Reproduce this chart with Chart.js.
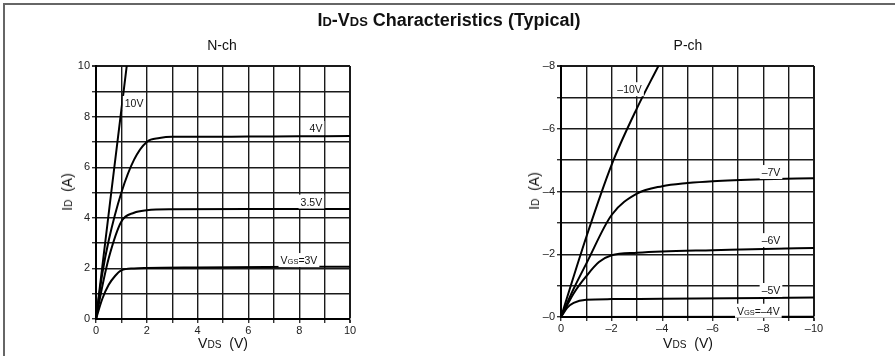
<!DOCTYPE html>
<html>
<head>
<meta charset="utf-8">
<script src="https://cdn.jsdelivr.net/npm/chart.js@4"></script>
<style>
  body { margin: 0; background: #fff; }
  #wrap { position: relative; width: 895px; height: 356px; overflow: hidden; font-family: "Liberation Sans", Arial, sans-serif; color: #111; }
  #frame { position: absolute; left: 3px; top: 3px; width: 1000px; height: 1000px; border-left: 2px solid #666; border-top: 2px solid #666; }
  canvas { position: absolute; top: 0; }
  .txt { position: absolute; white-space: nowrap; transform: translate(-50%, -50%); }
  .sm { font-size: 0.72em; }
  .title { font-weight: bold; font-size: 18px; }
  .sub { font-size: 14px; }
  .ax { font-size: 14px; }
  .rot { transform: translate(-50%, -50%) rotate(-90deg); }
</style>
</head>
<body>
<div id="wrap">
  <div id="frame"></div>
  <canvas id="nch" width="448" height="356" style="left:0"></canvas>
  <canvas id="pch" width="447" height="356" style="left:448px"></canvas>
  <div class="txt title" style="left:449px; top:20px">I<span class="sm">D</span>-V<span class="sm">DS</span> Characteristics (Typical)</div>
  <div class="txt sub" style="left:222px; top:45px">N-ch</div>
  <div class="txt sub" style="left:688px; top:45px">P-ch</div>
  <div class="txt ax rot" style="left:67px; top:192px">I<span class="sm">D</span>&nbsp;&nbsp;(A)</div>
  <div class="txt ax rot" style="left:534px; top:191px">I<span class="sm">D</span>&nbsp;&nbsp;(A)</div>
  <div class="txt ax" style="left:223px; top:343px">V<span class="sm">DS</span>&nbsp;&nbsp;(V)</div>
  <div class="txt ax" style="left:688px; top:343px">V<span class="sm">DS</span>&nbsp;&nbsp;(V)</div>
</div>
<script>
// N-ch curves (VDS in V, ID in A)
var n10Vds = [0, 0.6, 1.21];
var n10Id = [0, 5, 10];
var n4Vds = [0, 0.25, 0.5, 1, 1.5, 2, 2.5, 3, 4, 6, 8, 10];
var n4Id = [0, 1.8, 3.1, 5.0, 6.3, 7.0, 7.15, 7.2, 7.2, 7.21, 7.22, 7.23];
var n35Vds = [0, 0.25, 0.5, 1, 1.5, 2, 3, 6, 10];
var n35Id = [0, 1.3, 2.4, 3.85, 4.2, 4.3, 4.34, 4.35, 4.35];
var n3Vds = [0, 0.25, 0.5, 0.75, 1, 1.5, 2, 4, 10];
var n3Id = [0, 0.8, 1.35, 1.7, 1.92, 2.0, 2.02, 2.04, 2.07];

// P-ch curves
var p10Vds = [0, -1, -2, -3, -3.85];
var p10Id = [0, -2.55, -4.85, -6.65, -8];
var p7Vds = [0, -0.5, -1, -2, -3, -4, -5, -6, -8, -10];
var p7Id = [0, -0.9, -1.7, -3.25, -3.93, -4.17, -4.27, -4.33, -4.39, -4.42];
var p6Vds = [0, -0.5, -1, -1.5, -2, -3, -4, -6, -8, -10];
var p6Id = [0, -0.75, -1.3, -1.75, -1.97, -2.05, -2.09, -2.13, -2.17, -2.2];
var p5Vds = [0, -0.25, -0.5, -1, -2, -4, -10];
var p5Id = [0, -0.3, -0.45, -0.55, -0.57, -0.58, -0.62];
var p4Vds = [0, -10];
var p4Id = [0, -0.01];

// curve labels, {..} marks small text
var nLabels = ['10V', '4V', '3.5V', 'V{GS}=3V'];
var nLabelX = [1.5, 8.66, 8.48, 7.99];
var nLabelY = [8.54, 7.55, 4.64, 2.33];
var pLabels = ['\u201310V', '\u20137V', '\u20136V', '\u20135V', 'V{GS}=\u20134V'];
var pLabelX = [-2.71, -8.3, -8.3, -8.3, -7.8];
var pLabelY = [-7.26, -4.62, -2.45, -0.86, -0.2];

Chart.defaults.font.family = '"Liberation Sans", Arial, sans-serif';
Chart.defaults.font.size = 11;
Chart.defaults.color = '#222';

function pts(xs, ys) {
  return xs.map(function(x, i){ return {x: x, y: ys[i]}; });
}

function curve(xs, ys) {
  return {
    data: pts(xs, ys),
    borderColor: '#000',
    borderWidth: 2,
    pointRadius: 0,
    fill: false,
    cubicInterpolationMode: 'monotone'
  };
}

function drawRich(ctx, str, cx, cy) {
  var parts = [];
  str.split(/(\{[^}]*\})/).forEach(function(p){
    if (!p) return;
    if (p[0] === '{') parts.push({t: p.slice(1, -1), s: 7.5});
    else parts.push({t: p, s: 10.5});
  });
  var w = 0;
  parts.forEach(function(p){
    ctx.font = p.s + 'px "Liberation Sans", Arial, sans-serif';
    p.w = ctx.measureText(p.t).width;
    w += p.w;
  });
  ctx.fillStyle = '#fff';
  ctx.fillRect(cx - w / 2 - 2, cy - 7, w + 4, 14);
  ctx.fillStyle = '#111';
  ctx.textBaseline = 'alphabetic';
  ctx.textAlign = 'left';
  var x = cx - w / 2;
  parts.forEach(function(p){
    ctx.font = p.s + 'px "Liberation Sans", Arial, sans-serif';
    ctx.fillText(p.t, x, cy + 4);
    x += p.w;
  });
}

function labelPlugin(texts, xs, ys) {
  return {
    id: 'curveLabels',
    afterDatasetsDraw: function(chart){
      var ctx = chart.ctx;
      ctx.save();
      texts.forEach(function(t, i){
        drawRich(ctx, t, chart.scales.x.getPixelForValue(xs[i]), chart.scales.y.getPixelForValue(ys[i]));
      });
      ctx.restore();
    }
  };
}

function gridOpts(edgeValue) {
  return {
    color: '#1a1a1a',
    lineWidth: function(c){ return c.tick && c.tick.value === edgeValue ? 2 : 1.4; },
    tickLength: 4,
    tickColor: '#333'
  };
}

function buildChart(id, datasets, xr, yr, pad, labels, fmtX, fmtY) {
  return new Chart(document.getElementById(id), {
    type: 'line',
    data: { datasets: datasets },
    options: {
      responsive: false,
      animation: false,
      events: [],
      layout: { padding: pad },
      plugins: { legend: { display: false }, tooltip: { enabled: false } },
      scales: {
        x: {
          type: 'linear', min: xr[0], max: xr[1], reverse: xr[2],
          border: { display: true, color: '#000', width: 2 },
          grid: gridOpts(xr[3]),
          ticks: { stepSize: 1, autoSkip: false, maxRotation: 0, padding: 1, callback: fmtX },
          afterFit: function(s){ s.height = 20; }
        },
        y: {
          type: 'linear', min: yr[0], max: yr[1], reverse: yr[2],
          border: { display: true, color: '#000', width: 2 },
          grid: gridOpts(yr[3]),
          ticks: { stepSize: 1, autoSkip: false, padding: 2, callback: fmtY },
          afterFit: function(s){ s.width = 20; }
        }
      }
    },
    plugins: [labelPlugin(labels[0], labels[1], labels[2])]
  });
}

function evenPos(v) { return v % 2 === 0 ? String(v) : ''; }
function evenNeg(zero) {
  return function(v){
    if (v % 2 !== 0) return '';
    if (v === 0) return zero;
    return '\u2013' + Math.abs(v);
  };
}

buildChart('nch',
  [curve(n10Vds, n10Id), curve(n4Vds, n4Id), curve(n35Vds, n35Id), curve(n3Vds, n3Id)],
  [0, 10, false, 10], [0, 10, false, 10],
  {left: 76, right: 98, top: 66, bottom: 17},
  [nLabels, nLabelX, nLabelY], evenPos, evenPos);

buildChart('pch',
  [curve(p10Vds, p10Id), curve(p7Vds, p7Id), curve(p6Vds, p6Id), curve(p5Vds, p5Id), curve(p4Vds, p4Id)],
  [-10, 0, true, -10], [-8, 0, true, -8],
  {left: 93, right: 81, top: 66, bottom: 19},
  [pLabels, pLabelX, pLabelY], evenNeg('0'), evenNeg('\u20130'));
</script>
</body>
</html>
